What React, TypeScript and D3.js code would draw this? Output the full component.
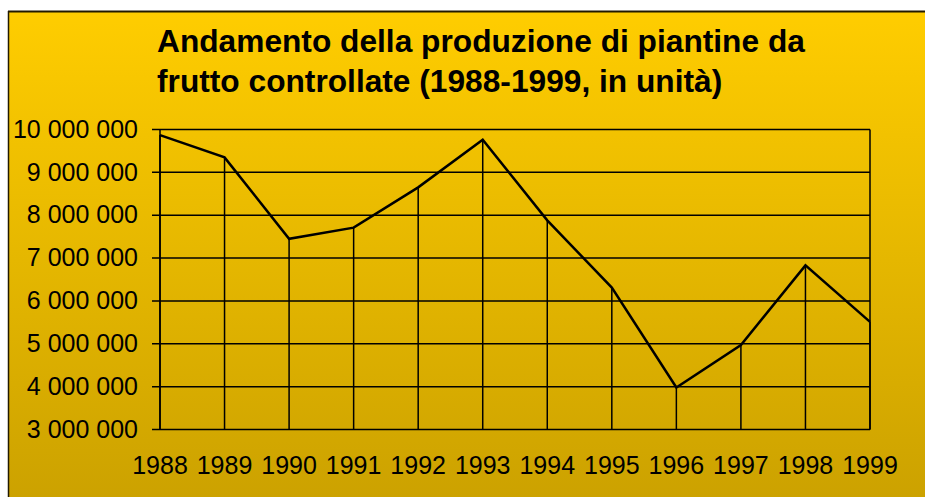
import * as d3 from 'd3';
import React from 'react';

// years on the x axis
const years = ['1988', '1989', '1990', '1991', '1992', '1993', '1994', '1995', '1996', '1997', '1998', '1999'];
// production of certified fruit plants, units
const production = [9870000, 9350000, 7450000, 7710000, 8650000, 9760000, 7880000, 6310000, 3980000, 4970000, 6830000, 5510000];
// y axis ticks
const yTicks = [3000000, 4000000, 5000000, 6000000, 7000000, 8000000, 9000000, 10000000];

const titleLines = ['Andamento della produzione di piantine da', 'frutto controllate (1988-1999, in unità)'];

const W = 925;
const H = 497;

const itFormat = d3.formatLocale({ decimal: ',', thousands: ' ', grouping: [3], currency: ['', ''] }).format(',');

export default function App() {
  // plot area
  const left = 160, right = 870, top = 129.5, bottom = 429.5;

  const x = d3.scalePoint<string>().domain(years).range([left, right]).padding(0);
  const y = d3.scaleLinear().domain([3000000, 10000000]).range([bottom, top]);

  const line = d3.line<number>()
    .x((d, i) => x(years[i]) as number)
    .y(d => y(d));

  const font = 'Arial, "Liberation Sans", sans-serif';

  return (
    <svg width={W} height={H} style={{ position: 'fixed', left: 0, top: 0 }}>
      <defs>
        <linearGradient id="bg" x1="0" y1="0" x2="0" y2="1">
          <stop offset="0" stopColor="#FFCD00" />
          <stop offset="1" stopColor="#CBA100" />
        </linearGradient>
      </defs>
      <rect x={0} y={0} width={W} height={H} fill="#fff" />
      {/* chart frame, bigger than the window */}
      <rect x={8} y={11} width={W} height={H} fill="url(#bg)" />
      <line x1={8} x2={W} y1={11.5} y2={11.5} stroke="#221a00" strokeWidth={2} />
      <line x1={8.5} x2={8.5} y1={11} y2={H} stroke="#221a00" strokeWidth={1.5} />

      {/* title */}
      <text fontFamily={font} fontWeight="bold" fontSize={31.7} fill="#000">
        {titleLines.map((t, i) => (
          <tspan key={i} x={157} y={52 + i * 40}>{t}</tspan>
        ))}
      </text>

      {/* horizontal grid + y ticks */}
      {yTicks.map(t => (
        <g key={t}>
          <line x1={152} x2={right} y1={y(t)} y2={y(t)} stroke="#000" strokeWidth={1.5} />
          <text x={138} y={y(t)} dy="0.33em" textAnchor="end" fontFamily={font} fontSize={25} fill="#000">
            {itFormat(t)}
          </text>
        </g>
      ))}

      {/* plot border right and left axis */}
      <line x1={right} x2={right} y1={top} y2={bottom} stroke="#000" strokeWidth={1.5} />
      <line x1={left} x2={left} y1={top} y2={bottom} stroke="#000" strokeWidth={1.5} />

      {/* drop lines */}
      {production.map((v, i) => (
        <line key={i} x1={x(years[i])} x2={x(years[i])} y1={y(v)} y2={bottom} stroke="#000" strokeWidth={1.5} />
      ))}

      {/* series */}
      <path d={line(production) || ''} fill="none" stroke="#000" strokeWidth={2.5} strokeLinejoin="miter" />

      {/* x labels */}
      {years.map(yr => (
        <text key={yr} x={x(yr)} y={474} textAnchor="middle" fontFamily={font} fontSize={25} fill="#000">
          {yr}
        </text>
      ))}
    </svg>
  );
}
